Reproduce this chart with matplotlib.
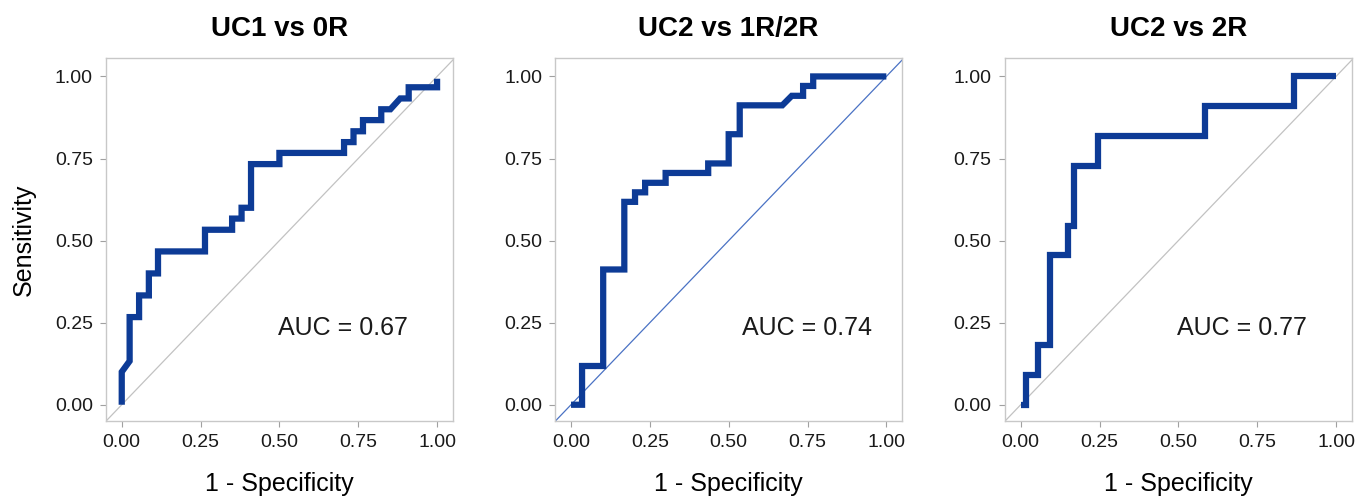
import numpy as np
import matplotlib
matplotlib.use("Agg")
import matplotlib.pyplot as plt

plt.rcParams["font.family"] = ["Liberation Sans", "DejaVu Sans"]

titles = ["UC1 vs 0R", "UC2 vs 1R/2R", "UC2 vs 2R"]
auc_labels = ["AUC = 0.67", "AUC = 0.74", "AUC = 0.77"]

# ROC vertices (1 - specificity, sensitivity)
fpr_uc1_0r = [0, 0, 0.025, 0.025, 0.055, 0.055, 0.086, 0.086, 0.115, 0.115,
              0.264, 0.264, 0.35, 0.35, 0.38, 0.38, 0.41, 0.41, 0.50, 0.50,
              0.705, 0.705, 0.735, 0.735, 0.765, 0.765, 0.823, 0.823, 0.852,
              0.883, 0.91, 0.91, 1.0, 1.0]
tpr_uc1_0r = [0, 0.1, 0.133, 0.267, 0.267, 0.333, 0.333, 0.4, 0.4, 0.467,
              0.467, 0.533, 0.533, 0.567, 0.567, 0.6, 0.6, 0.733, 0.733, 0.767,
              0.767, 0.8, 0.8, 0.833, 0.833, 0.867, 0.867, 0.9, 0.9,
              0.933, 0.933, 0.967, 0.967, 0.993]

fpr_uc2_12r = [0, 0.035, 0.035, 0.102, 0.102, 0.169, 0.169, 0.203, 0.203,
               0.235, 0.235, 0.30, 0.30, 0.435, 0.435, 0.50, 0.50, 0.535,
               0.535, 0.67, 0.70, 0.736, 0.736, 0.768, 0.768, 1.0]
tpr_uc2_12r = [0, 0, 0.118, 0.118, 0.412, 0.412, 0.618, 0.618, 0.647,
               0.647, 0.676, 0.676, 0.706, 0.706, 0.735, 0.735, 0.824, 0.824,
               0.912, 0.912, 0.941, 0.941, 0.971, 0.971, 1.0, 1.0]

fpr_uc2_2r = [0, 0.018, 0.018, 0.055, 0.055, 0.093, 0.093, 0.151, 0.151,
              0.168, 0.168, 0.244, 0.244, 0.585, 0.585, 0.868, 0.868, 1.0]
tpr_uc2_2r = [0, 0, 0.091, 0.091, 0.182, 0.182, 0.455, 0.455, 0.545,
              0.545, 0.727, 0.727, 0.818, 0.818, 0.909, 0.909, 1.0, 1.0]

curves = [(fpr_uc1_0r, tpr_uc1_0r), (fpr_uc2_12r, tpr_uc2_12r), (fpr_uc2_2r, tpr_uc2_2r)]
diag_colors = ["#c2c2c2", "#4a72c4", "#c2c2c2"]
auc_x = [0.70, 0.747, 0.70]

ticks = [0, 0.25, 0.5, 0.75, 1.0]
tick_labels = ["0.00", "0.25", "0.50", "0.75", "1.00"]

fig = plt.figure(figsize=(13.71, 4.99), dpi=100)
lefts = [0.0773, 0.405, 0.733]
axes = [fig.add_axes([l, 0.156, 0.253, 0.727]) for l in lefts]

for i, ax in enumerate(axes):
    fpr, tpr = curves[i]
    ax.axline((0, 0), (1, 1), color=diag_colors[i], lw=0.9, zorder=1)
    ax.plot(fpr, tpr, color="#0d3b96", lw=4.5, solid_capstyle="butt",
            solid_joinstyle="miter", zorder=2)
    ax.set_xlim(-0.05, 1.05)
    ax.set_ylim(-0.05, 1.055)
    ax.set_xticks(ticks)
    ax.set_xticklabels(tick_labels)
    ax.set_yticks(ticks)
    ax.set_yticklabels(tick_labels)
    ax.tick_params(labelsize=14, color="#a0a0a0", length=4.5, width=0.8,
                   labelcolor="#1a1a1a", pad=5)
    for s in ax.spines.values():
        s.set_color("#c8c8c8")
        s.set_linewidth(1.0)
    ax.set_title(titles[i], fontsize=20, fontweight="bold", pad=16)
    ax.set_xlabel("1 - Specificity", fontsize=18, labelpad=15)
    ax.text(auc_x[i], 0.235, auc_labels[i], fontsize=18, ha="center",
            va="center", color="#1a1a1a")

axes[0].set_ylabel("Sensitivity", fontsize=18, labelpad=14)

fig.savefig("out.png", dpi=100)
